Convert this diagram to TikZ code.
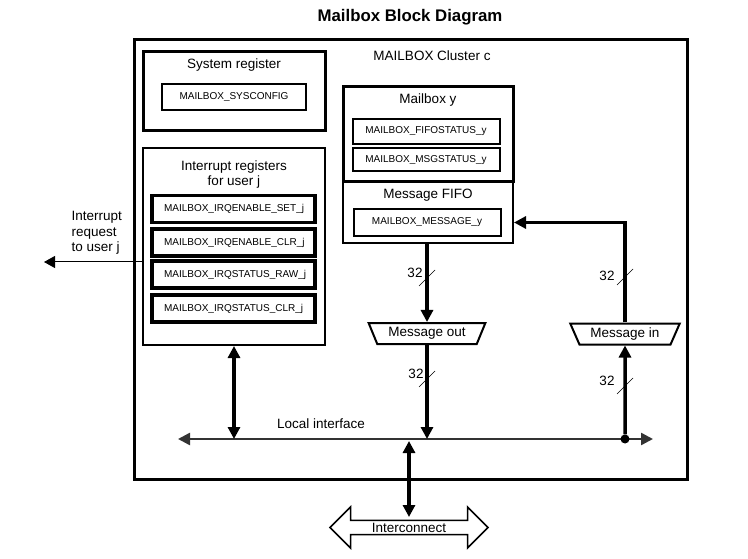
\documentclass[tikz,border=0pt]{standalone}
\usepackage{fontspec}
\setmainfont{Liberation Sans}
\usetikzlibrary{arrows.meta,shapes.geometric,shapes.arrows,calc}

\begin{document}
\begin{tikzpicture}[x=1pt,y=-1pt,
>={Triangle[length=12pt,width=12pt]},
font=\fontsize{13.5}{15.5}\selectfont]

\tikzstyle{block}=[rectangle, draw, line width=2pt, inner sep=0pt]
\tikzstyle{reg}=[rectangle, draw, line width=2pt, inner sep=0pt,
font=\fontsize{10}{12}\selectfont]
\tikzstyle{irqreg}=[reg, line width=3.5pt, minimum width=163pt, minimum height=27pt,
text width=139pt, align=left, inner xsep=12pt]
\tikzstyle{port}=[trapezium, draw, line width=2pt, trapezium left angle=61,
trapezium right angle=61, shape border rotate=180, trapezium stretches=true,
inner sep=0pt, minimum height=21pt]
\tikzstyle{bus}=[line width=3.5pt]
\tikzstyle{slash}=[line width=0.7pt]

\useasboundingbox (0,0) rectangle (748,559);
\fill[white] (0,0) rectangle (748,559);

%title
\node[font=\bfseries\fontsize{16.8}{20}\selectfont] (title) at (410,17) {Mailbox Block Diagram};

%cluster
\node[block, line width=3pt, minimum width=553pt, minimum height=439pt] (cluster) at (410.5,259.5) {};
\node (clabel) at (432,56) {MAILBOX Cluster c};

%system register
\node[block, line width=3pt, minimum width=182pt, minimum height=79pt] (sysreg) at (234,91.5) {};
\node (syslabel) at (234,65) {System register};
\node[reg, minimum width=144pt, minimum height=26pt] (sysconfig) at (234,97) {MAILBOX\_SYSCONFIG};

%interrupt registers
\node[block, minimum width=182pt, minimum height=197pt] (irq) at (234,246.5) {};
\node[align=center] (irqlabel) at (234,174.5) {Interrupt registers\\for user j};
\foreach \name/\y/\txt in {irqset/209/IRQENABLE\_SET\_j, irqclr/242.5/IRQENABLE\_CLR\_j,
  irqraw/274.5/IRQSTATUS\_RAW\_j, irqsclr/308.5/IRQSTATUS\_CLR\_j}
  \node[irqreg] (\name) at (233.5,\y) {MAILBOX\_\txt};

%interrupt request
\coordinate (irqout) at (44,262);
\draw[line width=1pt, ->, >={Triangle[length=11pt,width=12pt]}] (irq.west |- irqout) -- (irqout);
\node[align=left, anchor=north west] (irqtext) at (68,208) {Interrupt\\request\\to user j};

%mailbox and fifo
\node[block, minimum width=170pt, minimum height=61pt] (fifo) at (428,212.5) {};
\node[block, line width=3pt, minimum width=170pt, minimum height=95pt] (mbox) at (428,134.5) {};
\node (mboxlabel) at (428,100) {Mailbox y};
\node (fifolabel) at (428,195) {Message FIFO};
\node[reg, minimum width=147pt, minimum height=25pt] (fifostatus) at (426,131.5) {MAILBOX\_FIFOSTATUS\_y};
\node[reg, minimum width=147pt, minimum height=23pt] (msgstatus) at (426,160) {MAILBOX\_MSGSTATUS\_y};
\node[reg, minimum width=147pt, minimum height=27pt] (message) at (427,222.5) {MAILBOX\_MESSAGE\_y};

%ports
\node[port, minimum width=117pt] (msgout) at (427,333.5) {Message out};
\node[port, minimum width=110pt] (msgin) at (625,334) {Message in};

%local interface
\coordinate (busL) at (178,439);
\coordinate (busR) at (653,439);
\draw[line width=2.5pt, black!80, <->] (busL) -- (busR);
\node (lilabel) at (321,424) {Local interface};
\node[circle, fill, inner sep=0pt, minimum size=9pt] (junc) at (625,439) {};

%interconnect
\node[double arrow, draw, line width=1.5pt, double arrow head extend=10pt,
minimum height=158pt, minimum width=41pt, inner sep=0pt] (ic) at (409,527.5) {Interconnect};
\coordinate (ictop) at ($(ic.center)+(0,-10.5)$);

%connections
\draw[bus, ->] (fifo.south -| msgout.north) -- (msgout.north);
\draw[bus, ->] (msgout.south) -- (msgout.south |- busL);
\draw[bus, ->] (junc) -- (msgin.south);
\draw[bus, ->] (msgin.north) |- (fifo.east |- message);
\draw[bus, <->] (irq.south) -- (irq.south |- busL);
\draw[bus, <->, shorten <=2pt] (ictop |- busL) -- (ictop);

%bus widths
\foreach \px/\py/\tx/\ty [count=\i] in {427/278/415/273, 427/379/416/374, 625/277/607/276, 625/386/607/381}
{
  \draw[slash] (\px-8,\py+8) -- (\px+8,\py-8);
  \node[inner sep=0pt] (width\i) at (\tx,\ty) {32};
}

\end{tikzpicture}
\end{document}
